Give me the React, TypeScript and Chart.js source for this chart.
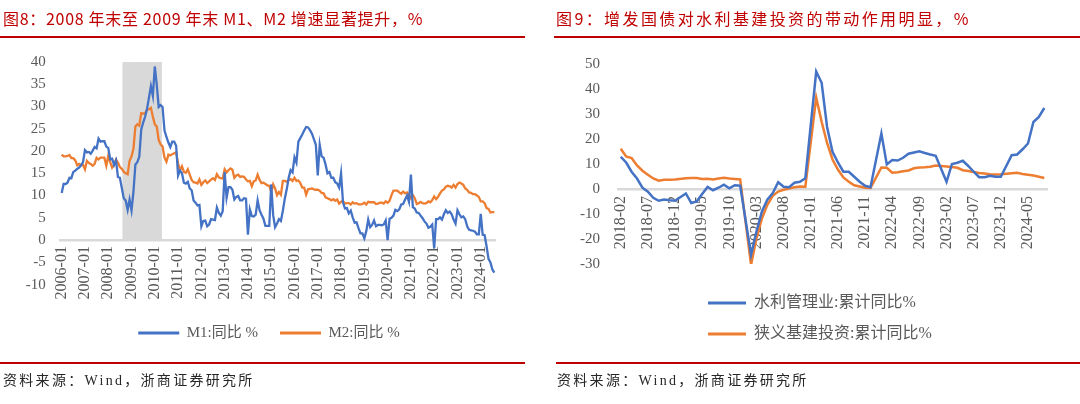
import React, { useEffect, useRef } from 'react';
import { Chart, registerables } from 'chart.js';

Chart.register(...registerables);

// ---------------- Left chart data (monthly, 2006-01 .. 2024-08) ----------------
const leftStartYear = 2006;
const leftStartMonth = 1;
const m1Values = [
  10.6, 12.6, 12.6, 12.9, 14.0, 13.9, 15.3, 15.6, 16.0, 16.3, 16.8, 17.5,
  20.2, 19.7, 19.8, 19.4, 20.1, 20.9, 20.6, 22.8, 22.1, 22.2, 22.2, 21.0,
  20.7, 18.2, 18.3, 16.9, 17.9, 14.2, 14.0, 11.7, 9.4, 8.9, 6.8, 9.1,
  6.7, 10.9, 17.0, 17.5, 18.7, 24.8, 26.4, 27.7, 29.5, 32.0, 34.6, 32.4,
  39.0, 34.9, 29.9, 30.3, 29.9, 24.6, 23.2, 21.9, 20.9, 22.1, 22.1, 21.2,
  14.5, 15.6, 15.0, 12.9, 12.7, 13.1, 11.6, 11.2, 8.9, 8.4, 7.8, 7.9,
  3.1, 4.3, 4.4, 3.1, 3.5, 4.7, 4.6, 4.5, 7.3, 6.1, 5.5, 6.5,
  15.3, 9.5, 11.9, 11.9, 11.3, 9.1, 9.7, 9.9, 8.9, 8.9, 9.4, 9.3,
  1.2, 6.9, 5.4, 5.3, 5.7, 8.9, 6.7, 5.7, 4.8, 3.2, 3.2, 3.2,
  12.5, 5.6, 2.9, 3.7, 4.7, 4.3, 6.6, 9.3, 11.4, 14.0, 15.7, 15.2,
  18.6, 17.4, 22.1, 22.9, 23.7, 24.6, 25.4, 25.3, 24.7, 23.9, 22.7, 21.4,
  14.5, 21.4, 18.8, 18.5, 17.0, 15.0, 15.3, 14.0, 14.0, 13.0, 12.7, 11.8,
  15.0, 8.5, 7.1, 7.2, 6.0, 6.6, 5.1, 3.9, 4.0, 2.7, 1.5, 1.5,
  0.4, 2.0, 4.6, 2.9, 3.4, 4.4, 3.1, 3.4, 3.4, 3.3, 3.5, 4.4,
  0.0, 4.8, 5.0, 5.5, 6.8, 6.5, 6.9, 8.0, 8.1, 9.1, 10.0, 8.6,
  14.7, 7.4, 7.1, 6.2, 6.1, 5.5, 4.9, 4.2, 3.7, 2.8, 3.0, 3.5,
  -1.9, 4.7, 4.7, 5.1, 4.6, 5.8, 6.7, 6.1, 6.4, 5.8, 4.6, 3.7,
  6.7, 5.8, 5.1, 5.3, 4.7, 3.1, 2.3, 2.2, 2.1, 1.9, 1.3, 1.3,
  5.9, 1.2, 1.1, -1.4, -4.2, -5.0, -6.6, -7.3,
];
const m2Values = [
  19.2, 18.8, 18.8, 18.9, 19.1, 18.4, 18.4, 17.9, 16.8, 17.1, 16.8, 16.9,
  15.9, 17.8, 17.3, 17.1, 16.7, 17.1, 18.5, 18.1, 18.5, 18.5, 18.5, 16.7,
  18.9, 17.5, 16.3, 16.9, 18.1, 17.4, 16.4, 16.0, 15.3, 15.0, 14.8, 17.8,
  18.8, 20.5, 25.5, 26.0, 25.7, 28.5, 28.4, 28.5, 29.3, 29.4, 29.7, 27.7,
  26.0, 25.5, 22.5, 21.5, 21.0, 18.5, 17.6, 19.2, 19.0, 19.3, 19.5, 19.7,
  17.2, 15.7, 16.6, 15.3, 15.1, 15.9, 14.7, 13.5, 13.0, 12.9, 12.7, 13.6,
  12.4, 13.0, 13.4, 12.8, 13.2, 13.6, 13.9, 13.5, 14.8, 14.1, 13.9, 13.8,
  15.9, 15.2, 15.7, 16.1, 15.8, 14.0, 14.5, 14.7, 14.2, 14.3, 14.2, 13.6,
  13.2, 13.3, 12.1, 13.2, 13.4, 14.7, 13.5, 12.8, 12.9, 12.6, 12.3, 12.2,
  10.8, 12.5, 11.6, 10.1, 10.8, 10.2, 13.3, 13.3, 13.1, 13.5, 13.7, 13.3,
  14.0, 13.3, 13.4, 12.8, 11.8, 11.8, 10.2, 11.4, 11.5, 11.6, 11.4, 11.3,
  11.3, 11.1, 10.6, 10.5, 9.6, 9.4, 9.2, 8.9, 9.2, 8.8, 9.1, 8.2,
  8.6, 8.8, 8.2, 8.3, 8.3, 8.0, 8.5, 8.2, 8.3, 8.0, 8.0, 8.1,
  8.4, 8.0, 8.6, 8.5, 8.5, 8.5, 8.1, 8.2, 8.4, 8.4, 8.2, 8.7,
  8.4, 8.8, 10.1, 11.1, 11.1, 11.1, 10.7, 10.4, 10.9, 10.5, 10.7, 10.1,
  9.4, 10.1, 9.4, 8.1, 8.3, 8.6, 8.3, 8.2, 8.3, 8.7, 8.5, 9.0,
  9.8, 9.2, 9.7, 10.5, 11.1, 11.4, 12.0, 12.2, 12.1, 11.8, 12.4, 11.8,
  12.6, 12.9, 12.7, 12.4, 11.6, 11.3, 10.7, 10.6, 10.3, 10.3, 10.0, 9.7,
  8.7, 8.7, 8.3, 7.2, 7.0, 6.2, 6.3, 6.3,
];
const leftSeriesNames = ['M1:同比 %', 'M2:同比 %'];
const shadeStart = '2008-09';
const shadeEnd = '2010-04';
const leftYMin = -10;
const leftYMax = 40;
const leftYStep = 5;
const leftLabelEvery = 12;

// ---------------- Right chart data (monthly cumulative, 2018-02 .. 2024-08; January not published) ----------------
const rightStartYear = 2018;
const rightStartMonth = 2;
const waterValues = [
  12.9, 10.6, 6.9, 4.2, 0.5, -1.1, -3.5, -4.7, -4.2, -4.5, -4.7,
  null, -1.8, -5.6, -5.0, -2.0, 0.8, -0.5, 0.5, 1.7, 0.3, 1.5, 1.3,
  null, -26.3, -17.0, -9.0, -4.3, -1.6, 2.7, 0.9, 0.7, 2.5, 2.9, 4.3,
  null, 47.0, 42.5, 24.8, 14.9, 10.6, 6.9, 6.9, 4.9, 2.9, 1.3, 0.7,
  null, 22.2, 9.8, 11.6, 11.4, 12.5, 14.1, 14.6, 15.1, 14.4, 13.8, 13.3,
  null, 2.9, 10.0, 10.5, 11.3, 9.2, 6.9, 4.7, 4.7, 5.3, 4.9, 4.9,
  null, 13.5, 13.8, 15.9, 18.2, 26.8, 28.8, 32.4,
];
const infraValues = [
  16.1, 13.0, 12.4, 9.4, 7.3, 5.7, 4.2, 3.3, 3.7, 3.7, 3.8,
  null, 4.3, 4.4, 4.4, 4.0, 4.1, 3.8, 4.2, 4.5, 4.2, 4.0, 3.8,
  null, -30.3, -19.7, -11.8, -6.3, -2.7, -1.0, -0.3, 0.2, 0.7, 1.0, 0.9,
  null, 36.6, 26.9, 18.4, 11.8, 7.8, 4.6, 2.9, 1.5, 1.0, 0.5, 0.4,
  null, 8.6, 8.5, 6.5, 6.7, 7.1, 7.4, 8.3, 8.6, 8.7, 8.9, 9.4,
  null, 9.0, 8.8, 8.5, 7.5, 7.2, 6.8, 6.4, 6.2, 5.9, 5.8, 5.9,
  null, 6.3, 6.5, 6.0, 5.7, 5.4, 4.9, 4.4,
];
const rightSeriesNames = ['水利管理业:累计同比%', '狭义基建投资:累计同比%'];
const rightYMin = -30;
const rightYMax = 50;
const rightYStep = 10;
const rightLabelEvery = 5;

// ---------------- Texts ----------------
const leftTitle = '图8：2008 年末至 2009 年末 M1、M2 增速显著提升，%';
const rightTitle = '图9：增发国债对水利基建投资的带动作用明显，%';
const sourceText = '资料来源：Wind，浙商证券研究所';

// ---------------- Styles ----------------
const BLUE = '#4472C4';
const ORANGE = '#ED7D31';
const GRAY = '#D9D9D9';
const TEXT = '#595959';
const RED = '#C00000';
const SERIF = '"Liberation Serif", "Noto Sans CJK SC", serif';
const IDEO_SPACE = '\u3000';

function monthLabels(year: number, month: number, count: number): string[] {
  const out: string[] = [];
  let y = year;
  let m = month;
  for (let i = 0; i < count; i++) {
    out.push(`${y}-${m < 10 ? '0' + m : m}`);
    m++;
    if (m > 12) { m = 1; y++; }
  }
  return out;
}

function legendLabels(chart: any) {
  const base = (Chart.defaults.plugins.legend.labels as any).generateLabels(chart);
  return base
    .filter((it: any) => chart.data.datasets[it.datasetIndex].type !== 'bar')
    .map((it: any) => ({ ...it, lineWidth: 0 }));
}

// invisible spacer axis on the right (only reserves room so the legend can extend past the plot)
function spacerAxis(width: number) {
  return {
    position: 'right' as const,
    display: true,
    grid: { display: false, drawTicks: false },
    border: { display: false },
    ticks: { display: false },
    afterFit: (s: any) => { s.width = width; },
  };
}

export default function App() {
  const leftRef = useRef<HTMLCanvasElement>(null);
  const rightRef = useRef<HTMLCanvasElement>(null);

  useEffect(() => {
    const leftLabels = monthLabels(leftStartYear, leftStartMonth, m1Values.length);
    const shade = leftLabels.map((l) => (l >= shadeStart && l <= shadeEnd ? leftYMax : null));

    // Left chart geometry (canvas px)
    const L = { w: 530, plotLeft: 60.7, plotRight: 495.3, top: 62, padL: 20, legendCenter: 269, padBottom: 53.5 };
    const leftLegendRight = 2 * L.legendCenter - L.padL;

    const left = new Chart(leftRef.current!, {
      type: 'line',
      data: {
        labels: leftLabels,
        datasets: [
          {
            type: 'bar',
            label: 'shade',
            data: shade as any,
            backgroundColor: GRAY,
            borderWidth: 0,
            barPercentage: 1,
            categoryPercentage: 1,
            order: 3,
          } as any,
          {
            label: leftSeriesNames[0],
            data: m1Values,
            borderColor: BLUE,
            backgroundColor: BLUE,
            borderWidth: 2.3,
            pointRadius: 0,
            tension: 0,
            order: 1,
          },
          {
            label: leftSeriesNames[1],
            data: m2Values,
            borderColor: ORANGE,
            backgroundColor: ORANGE,
            borderWidth: 2.3,
            pointRadius: 0,
            tension: 0,
            order: 2,
          },
        ],
      },
      options: {
        responsive: false,
        animation: false,
        events: [],
        layout: { padding: { top: L.top, left: L.padL, right: L.w - leftLegendRight, bottom: L.padBottom } },
        scales: {
          x: {
            type: 'category',
            offset: true,
            position: { y: 0 } as any,
            grid: { display: false, drawTicks: false },
            border: { display: true, color: GRAY, width: 2.5 },
            ticks: {
              autoSkip: false,
              minRotation: 90,
              maxRotation: 90,
              padding: 6,
              color: TEXT,
              font: { family: SERIF, size: 16 },
              callback: (_v: any, i: number) => (i % leftLabelEvery === 0 ? leftLabels[i] : ''),
            },
          },
          y: {
            min: leftYMin,
            max: leftYMax,
            grid: { display: false, drawTicks: false },
            border: { display: false },
            ticks: { stepSize: leftYStep, padding: 15, color: TEXT, font: { family: SERIF, size: 15 } },
            afterFit: (s: any) => { s.width = L.plotLeft - L.padL; },
          },
          spacer: spacerAxis(leftLegendRight - L.plotRight) as any,
        },
        plugins: {
          tooltip: { enabled: false },
          legend: {
            position: 'bottom',
            title: { display: true, text: ' ', font: { size: 10, lineHeight: 1 }, padding: { top: 8.9, bottom: 0 } },
            labels: {
              boxWidth: 41,
              boxHeight: 3,
              padding: 22,
              color: TEXT,
              font: { family: SERIF, size: 15 },
              generateLabels: legendLabels,
            },
          },
        },
      },
    });

    // Right chart
    const rightLabels = monthLabels(rightStartYear, rightStartMonth, waterValues.length);
    const R = { w: 540, plotLeft: 78, plotRight: 507, top: 64, padL: 36, padBottom: 52, legendStart: 168, boxW: 38, font: 16 };
    const rightLegendNames = [rightSeriesNames[0] + IDEO_SPACE + IDEO_SPACE, rightSeriesNames[1] + IDEO_SPACE];
    const mctx = document.createElement('canvas').getContext('2d')!;
    mctx.font = `${R.font}px ${SERIF}`;
    const itemW = R.boxW + R.font / 2 + mctx.measureText(rightLegendNames[1]).width;
    const rightLegendRight = Math.min(R.w, 2 * (R.legendStart + itemW / 2) - R.padL);

    const right = new Chart(rightRef.current!, {
      type: 'line',
      data: {
        labels: rightLabels,
        datasets: [
          {
            label: rightLegendNames[0],
            data: waterValues,
            borderColor: BLUE,
            backgroundColor: BLUE,
            borderWidth: 2.5,
            pointRadius: 0,
            tension: 0,
            spanGaps: true,
          },
          {
            label: rightLegendNames[1],
            data: infraValues,
            borderColor: ORANGE,
            backgroundColor: ORANGE,
            borderWidth: 2.5,
            pointRadius: 0,
            tension: 0,
            spanGaps: true,
          },
        ],
      },
      options: {
        responsive: false,
        animation: false,
        events: [],
        layout: { padding: { top: R.top, left: R.padL, right: R.w - rightLegendRight, bottom: R.padBottom } },
        scales: {
          x: {
            type: 'category',
            offset: true,
            position: { y: 0 } as any,
            grid: { display: false, drawTicks: false },
            border: { display: true, color: GRAY, width: 2.5 },
            ticks: {
              autoSkip: false,
              minRotation: 90,
              maxRotation: 90,
              padding: 7,
              color: TEXT,
              font: { family: SERIF, size: 16 },
              callback: (_v: any, i: number) => (i % rightLabelEvery === 0 ? rightLabels[i] : ''),
            },
          },
          y: {
            min: rightYMin,
            max: rightYMax,
            grid: { display: false, drawTicks: false },
            border: { display: false },
            ticks: { stepSize: rightYStep, padding: 18, color: TEXT, font: { family: SERIF, size: 15 } },
            afterFit: (s: any) => { s.width = R.plotLeft - R.padL; },
          },
          spacer: spacerAxis(rightLegendRight - R.plotRight) as any,
        },
        plugins: {
          tooltip: { enabled: false },
          legend: {
            position: 'bottom',
            title: { display: true, text: ' ', font: { size: 10, lineHeight: 1 }, padding: { top: 6, bottom: 0 } },
            labels: {
              boxWidth: R.boxW,
              boxHeight: 3,
              padding: 15,
              color: TEXT,
              font: { family: SERIF, size: R.font },
              generateLabels: legendLabels,
            },
          },
        },
      },
    });

    return () => {
      left.destroy();
      right.destroy();
    };
  }, []);

  const titleStyle: React.CSSProperties = {
    position: 'absolute',
    top: 8,
    height: 20,
    lineHeight: '20px',
    fontSize: 16,
    color: RED,
    fontFamily: '"Noto Sans CJK SC", sans-serif',
    whiteSpace: 'nowrap',
  };
  const sourceStyle: React.CSSProperties = {
    position: 'absolute',
    top: 371,
    height: 20,
    lineHeight: '20px',
    fontSize: 14,
    color: '#262626',
    fontFamily: SERIF,
    letterSpacing: '2.3px',
    whiteSpace: 'nowrap',
  };
  const rule = (left: number, top: number, width: number): React.CSSProperties => ({
    position: 'absolute', left, top, width, height: 2, background: RED,
  });

  return (
    <div style={{ position: 'absolute', left: 0, top: 0, width: 1080, height: 404, background: '#fff', overflow: 'hidden' }}>
      <canvas ref={leftRef} width={530} height={404} style={{ position: 'absolute', left: 0, top: 0, width: 530, height: 404 }} />
      <canvas ref={rightRef} width={540} height={404} style={{ position: 'absolute', left: 540, top: 0, width: 540, height: 404 }} />
      <div style={{ ...titleStyle, left: 3, letterSpacing: '0.7px' }}>{leftTitle}</div>
      <div style={{ ...titleStyle, left: 556, letterSpacing: '2.4px' }}>{rightTitle}</div>
      <div style={rule(0, 36, 525)} />
      <div style={rule(554, 36, 526)} />
      <div style={rule(0, 362, 525)} />
      <div style={rule(556, 362, 524)} />
      <div style={{ ...sourceStyle, left: 3 }}>{sourceText}</div>
      <div style={{ ...sourceStyle, left: 557 }}>{sourceText}</div>
    </div>
  );
}
